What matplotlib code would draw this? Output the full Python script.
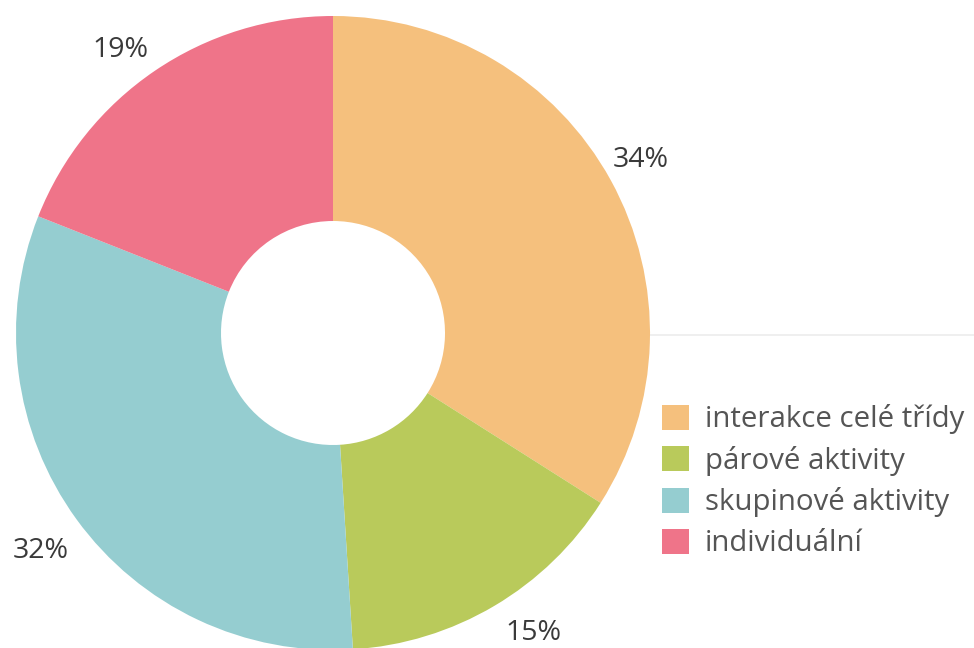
import matplotlib.pyplot as plt
from matplotlib.patches import Patch

plt.rcParams['font.family'] = ['Open Sans', 'DejaVu Sans']

categories = ['interakce celé třídy', 'párové aktivity', 'skupinové aktivity', 'individuální']
shares = [34, 15, 32, 19]
colors = ['#F5C07D', '#B9CA5B', '#95CDD0', '#EF7489']

fig = plt.figure(figsize=(9.74, 6.48), dpi=100)
ax = fig.add_axes([0, 0, 1, 1])

# faint divider to the right of the donut
ax.plot([650, 974], [313, 313], color='#ececec', lw=1.2, zorder=0)

wedges, texts, autotexts = ax.pie(
    shares, colors=colors, startangle=90, counterclock=False,
    center=(333, 315), radius=317, frame=True,
    autopct='%d%%', pctdistance=1.13,
    wedgeprops=dict(width=317 - 112, linewidth=0),
    textprops=dict(fontsize=20.5, color='#3a3a3a'))
ax.set_xlim(0, 974)
ax.set_ylim(0, 648)
ax.axis('off')

# nudge the labels that sit near the edges
nudges = [(-6, 0), (18, 8), (-3, -7), (-11, -13)]
for t, (dx, dy) in zip(autotexts, nudges):
    x, y = t.get_position()
    t.set_position((x + dx, y + dy))

handles = [Patch(facecolor=c, edgecolor='none') for c in colors]
ax.legend(handles, categories, loc='upper left', bbox_to_anchor=(0.668, 0.394),
          frameon=False, fontsize=21.2, labelcolor='#555555',
          handlelength=0.92, handleheight=0.92, handletextpad=0.52, labelspacing=0.39,
          borderaxespad=0)

fig.savefig('out.png', dpi=100)
